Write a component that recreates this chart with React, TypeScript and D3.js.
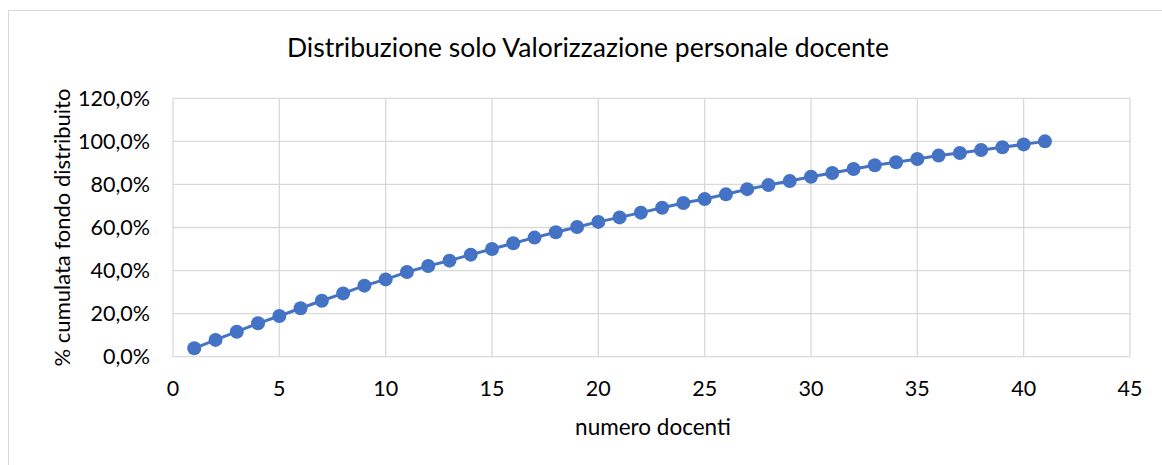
import React from 'react';
import * as d3 from 'd3';

const docenti = [
  1, 2, 3, 4, 5, 6, 7, 8, 9, 10, 11, 12, 13, 14, 15, 16, 17, 18, 19, 20, 21,
  22, 23, 24, 25, 26, 27, 28, 29, 30, 31, 32, 33, 34, 35, 36, 37, 38, 39, 40, 41,
];
const cumulata = [
  3.9, 7.8, 11.6, 15.5, 18.9, 22.5, 26.0, 29.4, 33.0, 35.9, 39.3, 42.1, 44.6,
  47.4, 50.0, 52.7, 55.3, 57.8, 60.2, 62.6, 64.7, 66.9, 69.2, 71.4, 73.2, 75.4,
  77.8, 79.7, 81.6, 83.6, 85.3, 87.2, 88.9, 90.3, 91.8, 93.4, 94.6, 96.0, 97.3,
  98.6, 100.0,
];
const xTicks = [0, 5, 10, 15, 20, 25, 30, 35, 40, 45];
const yTicks = [0, 20, 40, 60, 80, 100, 120];

const W = 1162;
const H = 465;
const m = { left: 173, right: 1130, top: 98.3, bottom: 356.7 };
const FONT = "Lato, 'Open Sans', sans-serif";

const App = () => {
  const x = d3.scaleLinear().domain([0, 45]).range([m.left, m.right]);
  const y = d3.scaleLinear().domain([0, 120]).range([m.bottom, m.top]);
  const fmt = (v: number) => v.toFixed(1).replace('.', ',') + '%';

  const points = docenti.map((d, i) => ({ d, v: cumulata[i] }));
  const line = d3
    .line<{ d: number; v: number }>()
    .x((p) => x(p.d))
    .y((p) => y(p.v));

  return (
    <svg
      width={W}
      height={H}
      style={{ position: 'absolute', left: 0, top: 0, background: '#fff' }}
      fontFamily={FONT}
    >
      <rect x={8.5} y={10.5} width={1160} height={470} fill="#fff" stroke="#d9d9d9" strokeWidth={1} />

      {/* grid */}
      {xTicks.map((t) => (
        <line key={'gx' + t} x1={x(t)} x2={x(t)} y1={m.top} y2={m.bottom} stroke="#d9d9d9" strokeWidth={1.3} />
      ))}
      {yTicks.map((t) => (
        <line key={'gy' + t} x1={m.left} x2={m.right} y1={y(t)} y2={y(t)} stroke="#d9d9d9" strokeWidth={1.3} />
      ))}

      {/* tick labels */}
      {yTicks.map((t) => (
        <text key={'ty' + t} x={150} y={y(t)} dy="0.35em" textAnchor="end" fontSize={21.5} fill="#000">
          {fmt(t)}
        </text>
      ))}
      {xTicks.map((t) => (
        <text key={'tx' + t} x={x(t)} y={388} dy="0.35em" textAnchor="middle" fontSize={21.5} fill="#000">
          {t}
        </text>
      ))}

      {/* series */}
      <path d={line(points) || ''} fill="none" stroke="#4472c4" strokeWidth={3} />
      {points.map((p) => (
        <circle key={p.d} cx={x(p.d)} cy={y(p.v)} r={7} fill="#4472c4" />
      ))}

      {/* titles */}
      <text x={588} y={48} dy="0.35em" textAnchor="middle" fontSize={26.5} fill="#000">
        Distribuzione solo Valorizzazione personale docente
      </text>
      <text x={653} y={427} dy="0.35em" textAnchor="middle" fontSize={22.5} fill="#000">
        numero docenti
      </text>
      <text
        transform={`translate(62,${(m.top + m.bottom) / 2}) rotate(-90)`}
        dy="0.35em"
        textAnchor="middle"
        fontSize={22}
        fill="#000"
      >
        % cumulata fondo distribuito
      </text>
    </svg>
  );
};

export default App;
